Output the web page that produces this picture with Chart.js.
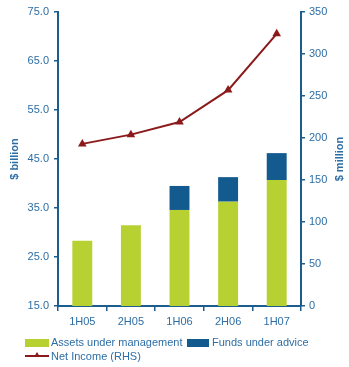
<!DOCTYPE html>
<html>
<head>
  <title>AUM and Net Income</title>
  <script src="https://cdn.jsdelivr.net/npm/chart.js"></script>
  <style>
    body { margin: 0; background: #fff; }
    #wrap { position: relative; width: 349px; height: 367px; }
    .legend { position: absolute; font-family: 'Liberation Sans', Arial, sans-serif; font-size: 11px; color: #2d6ea5; white-space: nowrap; }
    .box { position: absolute; height: 8px; }
    .tri { position: absolute; width: 0; height: 0; border-left: 3px solid transparent; border-right: 3px solid transparent; border-bottom: 5px solid #8b1a1a; }
  </style>
</head>
<body>
<div id="wrap">
  <canvas id="myChart" width="349" height="367"></canvas>
  <div class="box" style="left:25px;top:339px;width:24px;background:#b7d133"></div>
  <div class="legend" style="left:51px;top:336px">Assets under management</div>
  <div class="box" style="left:187px;top:339px;width:22px;background:#135a8f"></div>
  <div class="legend" style="left:212px;top:336px">Funds under advice</div>
  <div style="position:absolute;left:25px;top:355px;width:24px;height:2px;background:#8b1a1a"></div>
  <div class="tri" style="left:34px;top:352px"></div>
  <div class="legend" style="left:51px;top:350px">Net Income (RHS)</div>
</div>
<script>
  var periods = ['1H05', '2H05', '1H06', '2H06', '1H07'];
  var assetsUnderMgmt = [28.3, 31.5, 34.6, 36.3, 40.7];
  var fundsUnderAdvice = [0, 0, 4.9, 5.0, 5.5];
  var netIncome = [193, 204, 219, 257, 324];

  var axisColor = '#1b5d8f';
  var textColor = '#2d6ea5';
  var font = 'Liberation Sans, Arial, sans-serif';

  // rotated axis titles, both reading bottom to top
  var titles = {
    id: 'titles',
    afterDraw: function(chart) {
      var c = chart.ctx;
      var mid = (chart.chartArea.top + chart.chartArea.bottom) / 2;
      c.save();
      c.fillStyle = textColor;
      c.font = 'bold 11px ' + font;
      c.textAlign = 'center';
      c.textBaseline = 'middle';
      [[15, '$ billion'], [340, '$ million']].forEach(function(t) {
        c.save();
        c.translate(t[0], mid);
        c.rotate(-Math.PI / 2);
        c.fillText(t[1], 0, 0);
        c.restore();
      });
      c.restore();
    }
  };

  var ctx = document.getElementById('myChart').getContext('2d');
  new Chart(ctx, {
    data: {
      labels: periods,
      datasets: [
        {
          type: 'line',
          label: 'Net Income (RHS)',
          data: netIncome,
          yAxisID: 'y1',
          borderColor: '#8b1a1a',
          backgroundColor: '#8b1a1a',
          borderWidth: 2,
          pointStyle: 'triangle',
          pointRadius: 3,
          tension: 0,
          order: 0
        },
        {
          type: 'bar',
          label: 'Assets under management',
          data: assetsUnderMgmt,
          backgroundColor: '#b7d133',
          yAxisID: 'y',
          stack: 's',
          categoryPercentage: 1,
          barPercentage: 0.41,
          order: 1
        },
        {
          type: 'bar',
          label: 'Funds under advice',
          data: fundsUnderAdvice,
          backgroundColor: '#135a8f',
          yAxisID: 'y',
          stack: 's',
          categoryPercentage: 1,
          barPercentage: 0.41,
          order: 1
        }
      ]
    },
    options: {
      responsive: false,
      animation: false,
      layout: { padding: { top: 12, left: 0, right: 0, bottom: 0 } },
      plugins: { legend: { display: false }, tooltip: { enabled: false } },
      scales: {
        x: {
          stacked: true,
          offset: true,
          border: { color: axisColor, width: 2 },
          grid: { offset: true, drawOnChartArea: false, drawTicks: true, tickLength: 5, color: axisColor, lineWidth: 1.5 },
          ticks: { color: textColor, font: { family: font, size: 11 }, padding: 4, maxRotation: 0 },
          afterFit: function(s) { s.height = 61; }
        },
        y: {
          position: 'left',
          stacked: true,
          min: 15,
          max: 75,
          border: { color: axisColor, width: 2 },
          grid: { drawOnChartArea: false, drawTicks: true, tickLength: 4, color: axisColor, lineWidth: 1.5 },
          ticks: {
            stepSize: 10,
            color: textColor,
            font: { family: font, size: 11 },
            padding: 5,
            callback: function(v) { return v.toFixed(1); }
          },
          afterFit: function(s) { s.width = 58; }
        },
        y1: {
          position: 'right',
          min: 0,
          max: 350,
          border: { color: axisColor, width: 2 },
          grid: { drawOnChartArea: false, drawTicks: true, tickLength: 4, color: axisColor, lineWidth: 1.5 },
          ticks: { stepSize: 50, color: textColor, font: { family: font, size: 11 }, padding: 4 },
          afterFit: function(s) { s.width = 48; }
        }
      }
    },
    plugins: [titles]
  });
</script>
</body>
</html>
